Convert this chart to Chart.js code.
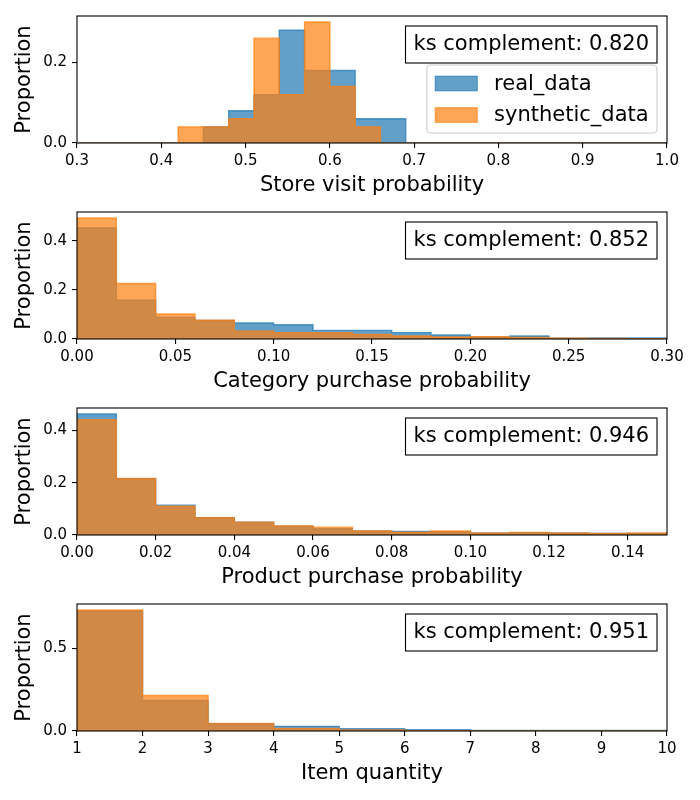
<!DOCTYPE html>
<html>
<head>
<meta charset="utf-8">
<script src="https://cdn.jsdelivr.net/npm/chart.js@4.4.1/dist/chart.umd.min.js"></script>
<style>
  body { margin: 0; background: #fff; }
  #wrap { position: relative; width: 700px; height: 800px; }
  .panel { position: absolute; left: 0; width: 700px; height: 196px; }
</style>
</head>
<body>
<div id="wrap">
  <div class="panel" style="top:0px"><canvas id="c0" width="700" height="196"></canvas></div>
  <div class="panel" style="top:196px"><canvas id="c1" width="700" height="196"></canvas></div>
  <div class="panel" style="top:392px"><canvas id="c2" width="700" height="196"></canvas></div>
  <div class="panel" style="top:588px"><canvas id="c3" width="700" height="196"></canvas></div>
</div>
<script>
// ---- data (proportion per bin) ----

// store visit probability
const storeEdges = [0.30, 0.42, 0.45, 0.48, 0.51, 0.54, 0.57, 0.60, 0.63, 0.66, 0.69, 1.00];
const storeReal  = [0, 0, 0.04, 0.08, 0.12, 0.28, 0.18, 0.18, 0.06, 0.06, 0];
const storeSyn   = [0, 0.04, 0.04, 0.06, 0.26, 0.12, 0.30, 0.14, 0.04, 0, 0];
const storeXTicks = [0.3, 0.4, 0.5, 0.6, 0.7, 0.8, 0.9, 1.0];
const storeYTicks = [0, 0.2];

// category purchase probability
const catEdges = [0, 0.02, 0.04, 0.06, 0.08, 0.10, 0.12, 0.14, 0.16, 0.18, 0.20, 0.22, 0.24, 0.26, 0.28, 0.30];
const catReal  = [0.453, 0.158, 0.088, 0.076, 0.065, 0.058, 0.035, 0.035, 0.026, 0.016, 0.008, 0.012, 0.003, 0.004, 0.004];
const catSyn   = [0.493, 0.226, 0.102, 0.077, 0.033, 0.026, 0.026, 0.019, 0.012, 0.008, 0.009, 0.006, 0.003, 0.002, 0.001];
const catXTicks = [0, 0.05, 0.10, 0.15, 0.20, 0.25, 0.30];
const catYTicks = [0, 0.2, 0.4];

// product purchase probability
const prodEdges = [0, 0.01, 0.02, 0.03, 0.04, 0.05, 0.06, 0.07, 0.08, 0.09, 0.10, 0.11, 0.12, 0.13, 0.14, 0.15];
const prodReal  = [0.462, 0.215, 0.114, 0.066, 0.049, 0.034, 0.024, 0.015, 0.014, 0.013, 0.008, 0.009, 0.008, 0.006, 0.006];
const prodSyn   = [0.440, 0.216, 0.110, 0.066, 0.049, 0.035, 0.030, 0.015, 0.011, 0.015, 0.008, 0.010, 0.008, 0.006, 0.008];
const prodXTicks = [0, 0.02, 0.04, 0.06, 0.08, 0.10, 0.12, 0.14];
const prodYTicks = [0, 0.2, 0.4];

// item quantity
const qtyEdges = [1, 2, 3, 4, 5, 6, 7, 8, 9, 10];
const qtyReal  = [0.725, 0.184, 0.044, 0.028, 0.014, 0.008, 0.004, 0.003, 0.003];
const qtySyn   = [0.730, 0.214, 0.046, 0.016, 0.006, 0.002, 0.001, 0.001, 0.001];
const qtyXTicks = [1, 2, 3, 4, 5, 6, 7, 8, 9, 10];
const qtyYTicks = [0, 0.5];

const ksScores = ['0.820', '0.852', '0.946', '0.951'];
const seriesNames = ['real_data', 'synthetic_data'];

const BLUE = 'rgba(31,119,180,0.7)';
const ORANGE = 'rgba(255,127,14,0.7)';
const FONT = '"DejaVu Sans"';

Chart.defaults.font.family = FONT;
Chart.defaults.color = '#000';

// turn bin edges + heights into step outline points
// (stepped 'before': each point's height runs until the next point)
function stepPoints(edges, vals) {
  const pts = [{x: edges[0], y: 0}];
  for (let i = 0; i < vals.length; i++) {
    pts.push({x: edges[i], y: vals[i]});
  }
  pts.push({x: edges[edges.length - 1], y: vals[vals.length - 1]});
  pts.push({x: edges[edges.length - 1], y: 0});
  return pts;
}

// frame, ks box and (optional) legend drawn over the data
const overlayPlugin = {
  id: 'overlay',
  afterDatasetsDraw(chart, args, opts) {
    const ctx = chart.ctx;
    const a = chart.chartArea;
    ctx.save();

    ctx.strokeStyle = '#000';
    ctx.lineWidth = 1.1;
    ctx.strokeRect(a.left, a.top, a.right - a.left, a.bottom - a.top);

    // ks complement box
    ctx.font = '21px ' + FONT;
    const txt = 'ks complement: ' + opts.score;
    const tw = ctx.measureText(txt).width;
    const bw = tw + 16, bh = 37;
    const bx = a.right - 10 - bw, by = a.top + 10;
    ctx.fillStyle = '#fff';
    ctx.fillRect(bx, by, bw, bh);
    ctx.lineWidth = 1.1;
    ctx.strokeStyle = '#000';
    ctx.strokeRect(bx, by, bw, bh);
    ctx.fillStyle = '#000';
    ctx.textBaseline = 'alphabetic';
    ctx.fillText(txt, bx + 8, by + 24);

    if (opts.legend) {
      const em = 21;
      const labelW = Math.max(...seriesNames.map(n => ctx.measureText(n).width));
      const lw = 0.4 * em + 2 * em + 0.8 * em + labelW + 0.4 * em;
      const lh = 68;
      const lx = a.right - 10 - lw, ly = a.top + 49;
      ctx.beginPath();
      ctx.roundRect(lx, ly, lw, lh, 4);
      ctx.fillStyle = 'rgba(255,255,255,0.8)';
      ctx.fill();
      ctx.strokeStyle = '#cccccc';
      ctx.lineWidth = 1.1;
      ctx.stroke();
      const colors = [BLUE, ORANGE];
      seriesNames.forEach((name, i) => {
        const cy = ly + 18.5 + i * 31.5;
        const px = lx + 0.4 * em;
        ctx.fillStyle = colors[i];
        ctx.fillRect(px, cy - 7.3, 2 * em, 14.6);
        ctx.strokeStyle = colors[i];
        ctx.lineWidth = 1.1;
        ctx.strokeRect(px, cy - 7.3, 2 * em, 14.6);
        ctx.fillStyle = '#000';
        ctx.fillText(name, px + 2.8 * em, cy + 6);
      });
    }
    ctx.restore();
  }
};

function makeHist(id, cfg) {
  const ymax = Math.max(...cfg.real, ...cfg.syn) * 1.05;
  const tickGrid = {drawOnChartArea: false, drawTicks: true, tickLength: 5, color: '#000', lineWidth: 1.1};
  return new Chart(document.getElementById(id), {
    type: 'line',
    data: {
      datasets: [
        {
          label: seriesNames[0], data: stepPoints(cfg.edges, cfg.real),
          stepped: 'before', fill: 'origin', backgroundColor: BLUE, borderColor: BLUE,
          borderWidth: 1.4, pointRadius: 0, order: 2
        },
        {
          label: seriesNames[1], data: stepPoints(cfg.edges, cfg.syn),
          stepped: 'before', fill: 'origin', backgroundColor: ORANGE, borderColor: ORANGE,
          borderWidth: 1.4, pointRadius: 0, order: 1
        }
      ]
    },
    options: {
      responsive: false,
      animation: false,
      layout: {padding: {left: 0, right: 33, top: 16, bottom: 0}},
      plugins: {
        legend: {display: false},
        tooltip: {enabled: false},
        overlay: {score: cfg.score, legend: cfg.legend}
      },
      scales: {
        x: {
          type: 'linear',
          min: cfg.xTicks[0],
          max: cfg.xmax,
          afterBuildTicks: s => { s.ticks = cfg.xTicks.map(v => ({value: v})); },
          afterFit: s => { s.height = 53; },
          grid: tickGrid,
          border: {display: false},
          ticks: {
            autoSkip: false, maxRotation: 0, padding: 4,
            font: {size: 15},
            callback: v => v.toFixed(cfg.xDec)
          },
          title: {
            display: true, text: cfg.xLabel,
            font: {size: 21, lineHeight: 1.0},
            padding: {top: 0, bottom: 0}
          }
        },
        y: {
          min: 0,
          max: ymax,
          afterBuildTicks: s => { s.ticks = cfg.yTicks.map(v => ({value: v})); },
          afterFit: s => { s.width = 77; },
          grid: tickGrid,
          border: {display: false},
          ticks: {
            autoSkip: false, padding: 5,
            font: {size: 15},
            callback: v => v.toFixed(1)
          },
          title: {
            display: true, text: 'Proportion',
            font: {size: 21, lineHeight: 1.0},
            padding: {top: 14, bottom: 0}
          }
        }
      }
    },
    plugins: [overlayPlugin]
  });
}

makeHist('c0', {edges: storeEdges, real: storeReal, syn: storeSyn, xTicks: storeXTicks, yTicks: storeYTicks,
  xmax: 1.0, xDec: 1, xLabel: 'Store visit probability', score: ksScores[0], legend: true});
makeHist('c1', {edges: catEdges, real: catReal, syn: catSyn, xTicks: catXTicks, yTicks: catYTicks,
  xmax: 0.30, xDec: 2, xLabel: 'Category purchase probability', score: ksScores[1], legend: false});
makeHist('c2', {edges: prodEdges, real: prodReal, syn: prodSyn, xTicks: prodXTicks, yTicks: prodYTicks,
  xmax: 0.15, xDec: 2, xLabel: 'Product purchase probability', score: ksScores[2], legend: false});
makeHist('c3', {edges: qtyEdges, real: qtyReal, syn: qtySyn, xTicks: qtyXTicks, yTicks: qtyYTicks,
  xmax: 10, xDec: 0, xLabel: 'Item quantity', score: ksScores[3], legend: false});
</script>
</body>
</html>
